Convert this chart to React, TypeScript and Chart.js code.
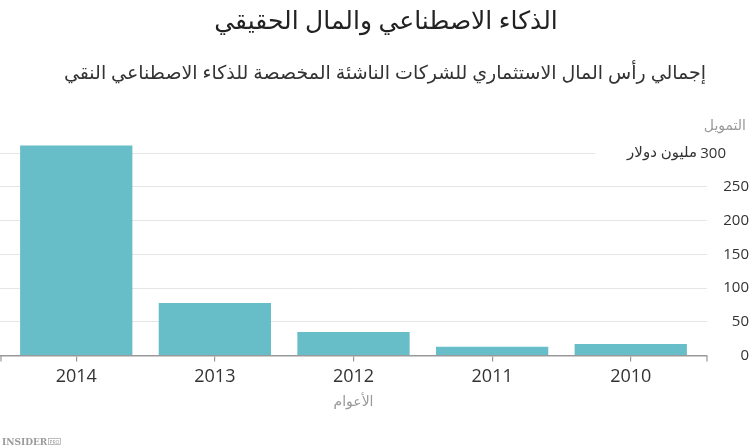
import React, { useEffect, useRef } from "react";
import { Chart, registerables } from "chart.js";

Chart.register(...registerables);

const years = ["2014", "2013", "2012", "2011", "2010"];
const funding = [311, 78, 35, 13, 17];
const yTicks = [0, 50, 100, 150, 200, 250, 300];

const titleText = "الذكاء الاصطناعي والمال الحقيقي";
const subtitleText = "إجمالي رأس المال الاستثماري للشركات الناشئة المخصصة للذكاء الاصطناعي النقي";
const yAxisTitle = "التمويل";
const yUnit = "مليون دولار";
const xAxisTitle = "الأعوام";

const FONT = "'Open Sans', 'Noto Sans', 'DejaVu Sans', sans-serif";

const extrasPlugin = {
  id: "extras",
  afterDraw(chart: any) {
    const ctx = chart.ctx;
    const ys = chart.scales.y;
    const xs = chart.scales.x;
    const area = chart.chartArea;
    const topVal = yTicks[yTicks.length - 1];
    const yTop = ys.getPixelForValue(topVal);
    ctx.save();
    // titles
    ctx.textAlign = "center";
    ctx.textBaseline = "middle";
    ctx.fillStyle = "#222222";
    ctx.font = `25px ${FONT}`;
    ctx.fillText(titleText, 386, 22);
    ctx.fillStyle = "#333333";
    ctx.font = `19px ${FONT}`;
    ctx.fillText(subtitleText, 385, 74);
    // outer tick marks of the x axis
    ctx.strokeStyle = "#999999";
    ctx.lineWidth = 1.2;
    ctx.beginPath();
    ctx.moveTo(xs.left + 1, xs.top);
    ctx.lineTo(xs.left + 1, xs.top + 6);
    ctx.moveTo(xs.right, xs.top);
    ctx.lineTo(xs.right, xs.top + 6);
    ctx.stroke();
    // mask gridline behind unit label
    ctx.fillStyle = "#ffffff";
    ctx.fillRect(595, yTop - 2, area.right - 595 + 1, 4);
    ctx.textBaseline = "middle";
    ctx.font = `15px ${FONT}`;
    ctx.fillStyle = "#333333";
    ctx.textAlign = "right";
    ctx.fillText(String(topVal), 726, yTop + 1);
    ctx.fillText(yUnit, 697, yTop);
    ctx.font = `14px ${FONT}`;
    ctx.fillStyle = "#999999";
    ctx.fillText(yAxisTitle, 746, yTop - 27);
    // logo
    ctx.textAlign = "left";
    ctx.textBaseline = "alphabetic";
    ctx.font = `bold 9px 'DejaVu Serif', 'Liberation Serif', serif`;
    ctx.fillStyle = "#9a9a9a";
    ctx.fillText("INSIDER", 2, 445);
    ctx.strokeStyle = "#b0b0b0";
    ctx.lineWidth = 0.8;
    ctx.strokeRect(48.5, 438.5, 12, 6);
    ctx.font = `5px ${FONT}`;
    ctx.fillText("PRO", 49.5, 443.6);
    ctx.restore();
  },
};

export default function App() {
  const ref = useRef<HTMLCanvasElement | null>(null);
  useEffect(() => {
    document.body.style.margin = "0";
    const canvas = ref.current!;
    const chart = new Chart(canvas, {
      type: "bar",
      data: {
        datasets: [
          {
            data: funding.map((v, i) => ({ x: i, y: v })),
            backgroundColor: "#68bec8",
            borderWidth: 0,
            barPercentage: 0.9,
            categoryPercentage: 0.9,
            clip: false as any,
          },
        ],
      },
      options: {
        animation: false,
        responsive: false,
        maintainAspectRatio: false,
        layout: { padding: { left: 0, right: 1, top: 153, bottom: 38 } },
        plugins: {
          legend: { display: false },
          tooltip: { enabled: false },
          title: { display: false },
          subtitle: { display: false },
        },
        scales: {
          x: {
            type: "linear",
            offset: false,
            min: -0.55,
            max: 4.55,
            afterBuildTicks: (s: any) => {
              s.ticks = years.map((_, i) => ({ value: i }));
            },
            ticks: {
              autoSkip: false,
              maxRotation: 0,
              color: "#333333",
              font: { family: FONT, size: 18 },
              padding: 4,
              callback: (v: any) => years[v] ?? "",
            },
            grid: {
              offset: false,
              drawOnChartArea: false,
              drawTicks: true,
              tickLength: 6,
              color: "#999999",
              lineWidth: 1.2,
            },
            border: { display: true, color: "#999999", width: 1.5 },
            title: {
              display: true,
              text: xAxisTitle,
              color: "#999999",
              font: { family: FONT, size: 14 },
              padding: { top: 2, bottom: 0 },
            },
          },
          y: {
            position: "right",
            min: 0,
            max: 300,
            afterBuildTicks: (s: any) => {
              s.ticks = yTicks.map((v) => ({ value: v }));
            },
            afterFit: (s: any) => {
              s.width = 42;
            },
            ticks: {
              color: "#333333",
              font: { family: FONT, size: 15 },
              padding: 17,
              crossAlign: "far",
              callback: (v: any) => (v === yTicks[yTicks.length - 1] ? "" : String(v)),
            },
            grid: { color: "#e6e6e6", drawTicks: false, lineWidth: 1 },
            border: { display: false },
          },
        },
      },
      plugins: [extrasPlugin],
    } as any);
    return () => chart.destroy();
  }, []);
  return (
    <div style={{ position: "absolute", left: 0, top: 0, width: 750, height: 448 }}>
      <canvas ref={ref} width={750} height={448} style={{ width: 750, height: 448, display: "block" }} />
    </div>
  );
}
